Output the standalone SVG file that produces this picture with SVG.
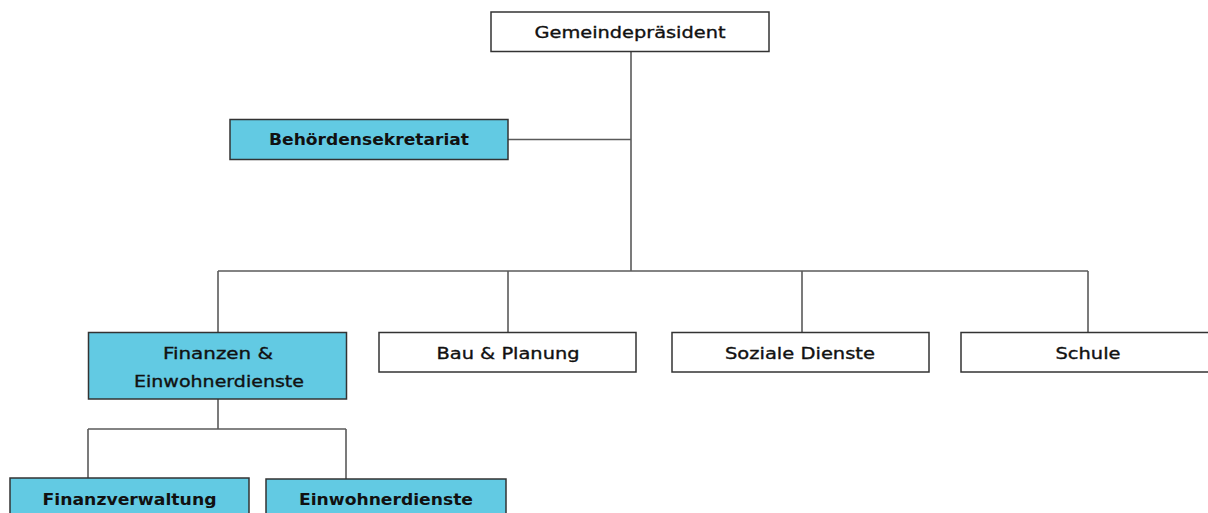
<svg xmlns="http://www.w3.org/2000/svg" width="1208" height="513" viewBox="0 0 1208 513">
<style>
.box{fill:#ffffff;stroke:#333333;stroke-width:1.5}
.teal{fill:#62cae3;stroke:#333333;stroke-width:1.5}
.lbl{font-family:"DejaVu Sans","Liberation Sans",sans-serif;font-size:16px;fill:#111111;stroke:#111111;stroke-width:0.35;text-anchor:middle}
.b{font-weight:bold;stroke-width:0}
.ln{fill:none;stroke:#5a5a5a;stroke-width:1.6}
</style>
<rect width="1208" height="513" fill="#ffffff"/>
<g id="connectors">
<path class="ln" d="M631,52 V271"/>
<path class="ln" d="M508,139.5 H631"/>
<path class="ln" d="M218,271 H1088"/>
<path class="ln" d="M218,271 V332"/>
<path class="ln" d="M508,271 V332"/>
<path class="ln" d="M802,271 V332"/>
<path class="ln" d="M1088,271 V332"/>
<path class="ln" d="M218,399 V429"/>
<path class="ln" d="M88,429 H346"/>
<path class="ln" d="M88,429 V478"/>
<path class="ln" d="M346,429 V479"/>
</g>
<g id="gemeindepraesident">
<rect class="box" x="491" y="12" width="278" height="39.5"/>
<text class="lbl" x="630" y="37.5" textLength="191" lengthAdjust="spacingAndGlyphs">Gemeindepräsident</text>
</g>
<g id="behoerdensekretariat">
<rect class="teal" x="230" y="119.5" width="278" height="40"/>
<text class="lbl b" x="369" y="145" textLength="200" lengthAdjust="spacingAndGlyphs">Behördensekretariat</text>
</g>
<g id="finanzen">
<rect class="teal" x="88.5" y="332.5" width="258" height="66.5"/>
<text class="lbl" x="218" y="359" textLength="110" lengthAdjust="spacingAndGlyphs">Finanzen &amp;</text>
<text class="lbl" x="219" y="387" textLength="170" lengthAdjust="spacingAndGlyphs">Einwohnerdienste</text>
</g>
<g id="bau">
<rect class="box" x="379" y="332.5" width="257" height="39.5"/>
<text class="lbl" x="508" y="358.5" textLength="143" lengthAdjust="spacingAndGlyphs">Bau &amp; Planung</text>
</g>
<g id="soziale">
<rect class="box" x="672" y="332.5" width="257" height="39.5"/>
<text class="lbl" x="800" y="358.5" textLength="150" lengthAdjust="spacingAndGlyphs">Soziale Dienste</text>
</g>
<g id="schule">
<rect class="box" x="961" y="332.5" width="260" height="39.5"/>
<text class="lbl" x="1088" y="358.5" textLength="65" lengthAdjust="spacingAndGlyphs">Schule</text>
</g>
<g id="finanzverwaltung">
<rect class="teal" x="10" y="478" width="239" height="40"/>
<text class="lbl b" x="129.5" y="505" textLength="174" lengthAdjust="spacingAndGlyphs">Finanzverwaltung</text>
</g>
<g id="einwohnerdienste">
<rect class="teal" x="266" y="479" width="240" height="40"/>
<text class="lbl b" x="386" y="505" textLength="174" lengthAdjust="spacingAndGlyphs">Einwohnerdienste</text>
</g>
</svg>
